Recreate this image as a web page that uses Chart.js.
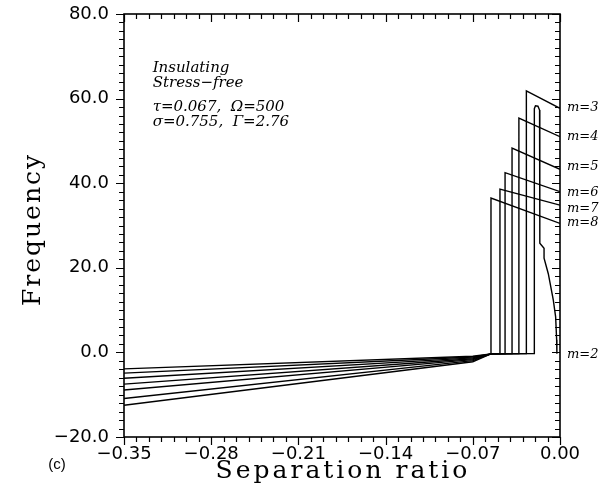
<!DOCTYPE html>
<html>
<head>
<meta charset="utf-8">
<script src="https://cdn.jsdelivr.net/npm/chart.js@4.4.0/dist/chart.umd.min.js"></script>
<style>
  html, body { margin: 0; padding: 0; background: #fff; }
  #wrap { width: 602px; height: 487px; position: relative; }
</style>
</head>
<body>
<div id="wrap"><canvas id="c" width="602" height="487"></canvas></div>
<script>
// ---- data ----
const modes      = ['m=2', 'm=3', 'm=4', 'm=5', 'm=6', 'm=7', 'm=8'];
const xStart     = -0.35;
const startY     = [-3.9, -4.9, -6.1, -7.5, -8.9, -10.9, -12.5];   // at x = -0.35
const xMid       = -0.07;
const midY       = [-0.9, -1.1, -1.3, -1.5, -1.7, -1.95, -2.2];    // at x = -0.07
const xMeet      = -0.0554;
const meetY      = -0.35;
const flatY      = -0.25;
const jumpX      = [-0.0206, -0.0270, -0.0330, -0.0385, -0.0441, -0.0482, -0.0554];
const peakY      = [58.3, 61.8, 55.4, 48.3, 42.5, 38.6, 36.5];
const endX       = 0.0;
const endY       = [null, 57.7, 51.0, 43.3, 38.0, 34.8, 30.5];
// m=2 closed-top loop and its tail back down to zero
const m2TopX     = [-0.0197, -0.0177, -0.0164, -0.0162, -0.0128, -0.0128, -0.0094, -0.0054, -0.0035, -0.0027, -0.0025];
const m2TopY     = [58.3, 58.2, 57.3, 25.8, 24.6, 22.3, 18.6, 12.4, 8.4, 3.0, -0.3];
// label anchors (data units) on the right margin
const labelY     = [-0.6, 57.8, 51.0, 43.9, 37.8, 34.0, 30.7];
const xTicksMajor = ['−0.35', '−0.28', '−0.21', '−0.14', '−0.07', '0.00'];
const yTicksMajor = ['−20.0', '0.0', '20.0', '40.0', '60.0', '80.0'];
const xTitle = 'Separation ratio';
const yTitle = 'Frequency';
const notes = ['Insulating', 'Stress−free', 'τ=0.067,  Ω=500', 'σ=0.755,  Γ=2.76'];

// ---- build datasets ----
const datasets = modes.map((m, i) => {
  const pts = [{x: xStart, y: startY[i]}, {x: xMid, y: midY[i]}, {x: xMeet, y: meetY}];
  if (jumpX[i] > xMeet + 1e-6) pts.push({x: jumpX[i], y: flatY});
  if (i === 0) {
    pts.push({x: jumpX[i], y: 57.6});
    m2TopX.forEach((xx, k) => pts.push({x: xx, y: m2TopY[k]}));
  } else {
    pts.push({x: jumpX[i], y: peakY[i]});
    pts.push({x: endX, y: endY[i]});
  }
  return {
    label: m, data: pts, showLine: true, borderColor: '#000', borderWidth: 1.4,
    pointRadius: 0, pointHoverRadius: 0, tension: 0, fill: false
  };
});

const xMajor = v => Math.round(v * 100) % 7 === 0;
const yMajor = v => Math.round(v) % 20 === 0;

const decor = {
  id: 'decor',
  afterDraw(chart) {
    const {ctx, chartArea: a, scales: {x, y}} = chart;
    ctx.save();
    ctx.strokeStyle = '#000';
    ctx.lineWidth = 1.6;
    ctx.strokeRect(a.left, a.top, a.right - a.left, a.bottom - a.top);
    ctx.lineWidth = 1.2;
    ctx.beginPath();
    x.ticks.forEach(t => {
      const px = Math.round(x.getPixelForValue(t.value)) + 0.5;
      const L = xMajor(t.value) ? 8 : 5;
      ctx.moveTo(px, a.bottom); ctx.lineTo(px, a.bottom + L);
      ctx.moveTo(px, a.top); ctx.lineTo(px, a.top + L);
    });
    y.ticks.forEach(t => {
      const py = Math.round(y.getPixelForValue(t.value)) + 0.5;
      const L = yMajor(t.value) ? 8 : 5;
      ctx.moveTo(a.left - L, py); ctx.lineTo(a.left, py);
      ctx.moveTo(a.right - L, py); ctx.lineTo(a.right, py);
    });
    ctx.stroke();

    ctx.fillStyle = '#000';
    // axis titles (typewriter-like serif, widely spaced)
    ctx.font = '25px "DejaVu Serif"';
    if ('letterSpacing' in ctx) ctx.letterSpacing = '3px';
    ctx.textAlign = 'center';
    ctx.textBaseline = 'middle';
    ctx.fillText(xTitle, (a.left + a.right) / 2 + 1, 471);
    if ('letterSpacing' in ctx) ctx.letterSpacing = '2px';
    ctx.save();
    ctx.translate(33, (a.top + a.bottom) / 2 + 4);
    ctx.rotate(-Math.PI / 2);
    ctx.fillText(yTitle, 0, 0);
    ctx.restore();
    if ('letterSpacing' in ctx) ctx.letterSpacing = '0px';

    // mode labels
    ctx.font = 'italic 13px "DejaVu Serif"';
    ctx.textAlign = 'left';
    ctx.textBaseline = 'middle';
    modes.forEach((m, i) => ctx.fillText(m, a.right + 7, y.getPixelForValue(labelY[i])));

    // annotation block
    ctx.font = 'italic 15px "DejaVu Serif"';
    ctx.textBaseline = 'alphabetic';
    const nx = x.getPixelForValue(-0.327);
    const base = [72, 87, 111, 126];
    notes.forEach((s, i) => ctx.fillText(s, nx, base[i]));

    // panel tag
    ctx.font = '15px "Liberation Sans"';
    ctx.textAlign = 'center';
    ctx.textBaseline = 'middle';
    ctx.fillText('(c)', 57, 465);
    ctx.restore();
  }
};

new Chart(document.getElementById('c'), {
  type: 'scatter',
  data: { datasets },
  options: {
    responsive: false,
    animation: false,
    events: [],
    layout: { padding: { left: 0, right: 42, top: 14, bottom: 0 } },
    plugins: { legend: { display: false }, tooltip: { enabled: false } },
    scales: {
      x: {
        type: 'linear', min: -0.35, max: 0,
        afterFit: s => { s.height = 50; s.paddingLeft = 0; s.paddingRight = 0; },
        grid: { display: false, drawTicks: false },
        border: { display: false },
        ticks: {
          stepSize: 0.01, autoSkip: false, maxRotation: 0, padding: 7,
          color: '#000', font: { family: 'DejaVu Sans', size: 18 },
          callback: v => xMajor(v) ? xTicksMajor[Math.round((v + 0.35) * 100) / 7] : ''
        },
        title: { display: false, text: xTitle }
      },
      y: {
        type: 'linear', min: -20, max: 80,
        afterFit: s => { s.width = 124; s.paddingTop = 0; s.paddingBottom = 0; },
        grid: { display: false, drawTicks: false },
        border: { display: false },
        ticks: {
          stepSize: 2, autoSkip: false, padding: 15,
          color: '#000', font: { family: 'DejaVu Sans', size: 18 },
          callback: v => yMajor(v) ? yTicksMajor[Math.round((v + 20) / 20)] : ''
        },
        title: { display: false, text: yTitle }
      }
    }
  },
  plugins: [decor]
});
</script>
</body>
</html>
